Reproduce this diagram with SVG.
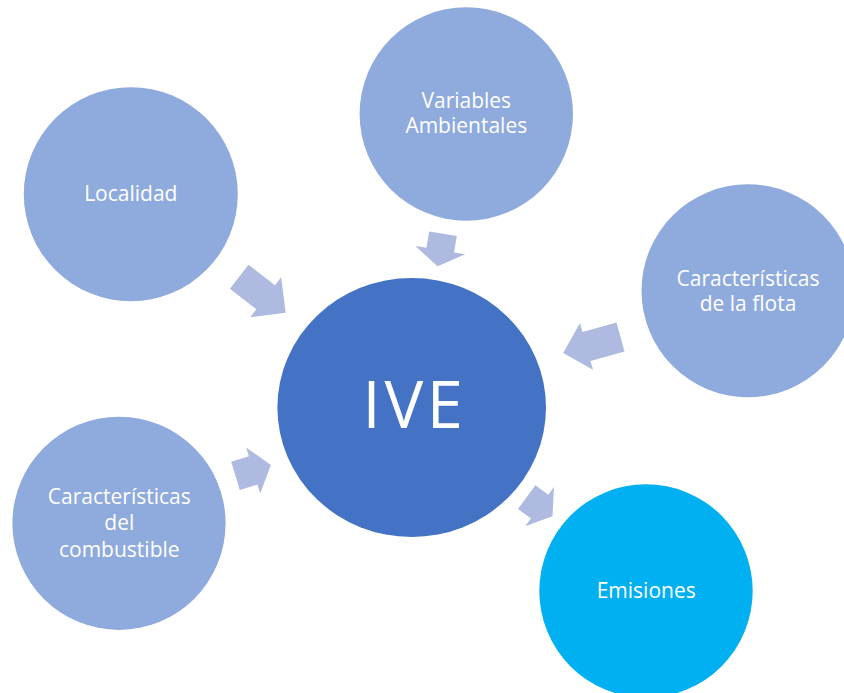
<svg xmlns="http://www.w3.org/2000/svg" width="844" height="693" viewBox="0 0 844 693">
  <style>
    .input { fill: #8FAADC; }
    .core { fill: #4472C4; }
    .output { fill: #00B0F0; }
    .arrow { fill: #AEBADF; }
    .label { font-family: "Open Sans", "Liberation Sans", sans-serif; font-size: 21px; fill: #FFFFFF; text-anchor: middle; }
    .big { font-family: "Open Sans", "Liberation Sans", sans-serif; font-size: 65px; fill: #FFFFFF; text-anchor: middle; letter-spacing: 3.7px; }
  </style>
  <rect width="844" height="693" fill="#FFFFFF"/>

  <!-- block arrows: tail at origin, pointing along +x -->
  <g id="connectors">
    <polygon class="arrow" transform="translate(239.2,276.7) rotate(37.8)" points="0,-15.2 33.5,-15.2 33.5,-25.3 58.8,0 33.5,25.3 33.5,15.2 0,15.2"/>
    <polygon class="arrow" transform="translate(443,233.8) rotate(99.5)" points="0,-14 16.5,-14 16.5,-25.4 33,0 16.5,25.4 16.5,14 0,14"/>
    <polygon class="arrow" transform="translate(620.5,337) rotate(164.5)" points="0,-15 35.3,-15 35.3,-24.2 59.5,0 35.3,24.2 35.3,15 0,15"/>
    <polygon class="arrow" transform="translate(235.5,475.8) rotate(-16.9)" points="0,-14.8 18.5,-14.8 18.5,-24 37,0 18.5,24 18.5,14.8 0,14.8"/>
    <polygon class="arrow" transform="translate(526.7,497.2) rotate(36.3)" points="0,-14.7 16,-14.7 16,-24.3 32,0 16,24.3 16,14.7 0,14.7"/>
  </g>

  <g id="localidad">
    <circle class="input" cx="130.8" cy="194.2" r="107"/>
    <text class="label" x="130.8" y="200.7">Localidad</text>
  </g>

  <g id="variables-ambientales">
    <circle class="input" cx="466.3" cy="114" r="106.7"/>
    <text class="label" x="466.3" y="108.3">Variables</text>
    <text class="label" x="466.3" y="133.3">Ambientales</text>
  </g>

  <g id="caracteristicas-flota">
    <circle class="input" cx="748" cy="290.8" r="106.5"/>
    <text class="label" x="748" y="285.7">Características</text>
    <text class="label" x="748" y="310.7">de la flota</text>
  </g>

  <g id="ive">
    <ellipse class="core" cx="411.7" cy="407.5" rx="134.3" ry="129.5"/>
    <text class="big" x="414.6" y="428.3">IVE</text>
  </g>

  <g id="caracteristicas-combustible">
    <circle class="input" cx="119" cy="523.3" r="106.6"/>
    <text class="label" x="119.3" y="504">Características</text>
    <text class="label" x="119.3" y="530.3">del</text>
    <text class="label" x="119.3" y="556.5">combustible</text>
  </g>

  <g id="emisiones">
    <circle class="output" cx="646" cy="591" r="106.7"/>
    <text class="label" x="646.2" y="598.3">Emisiones</text>
  </g>
</svg>
